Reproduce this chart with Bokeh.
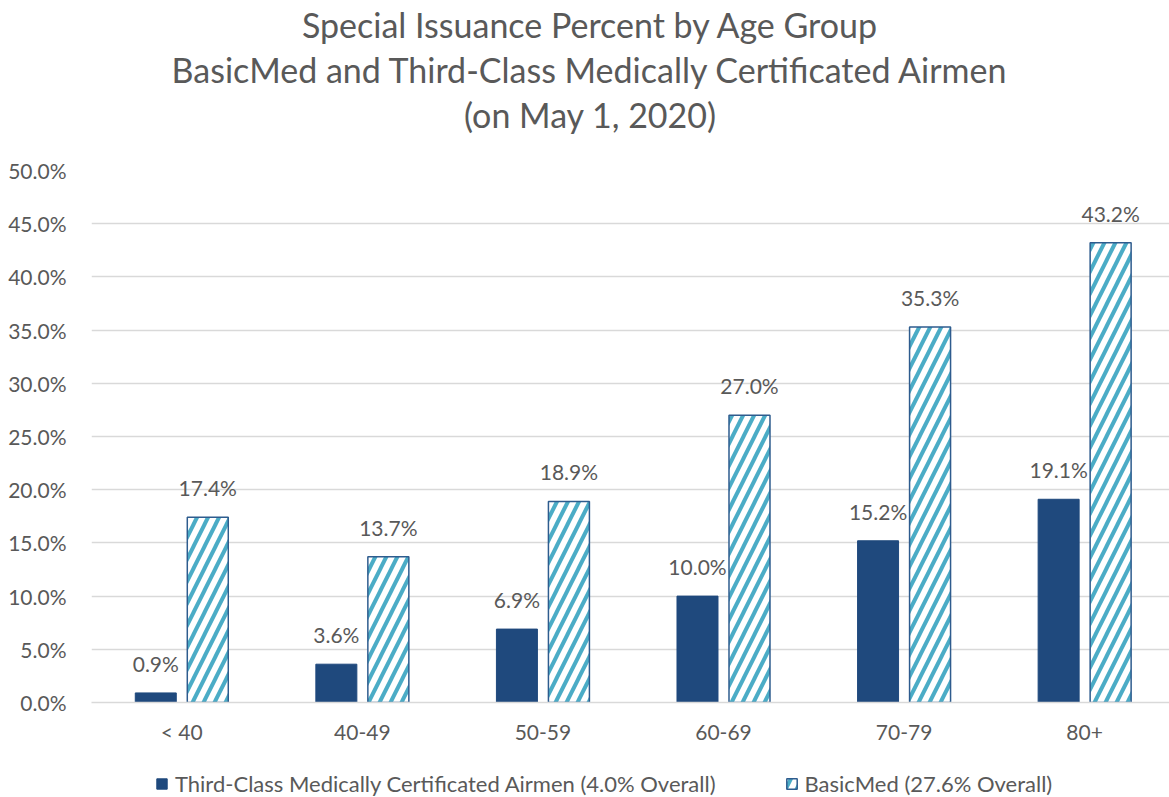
from bokeh.plotting import figure
from bokeh.layouts import column
from bokeh.models import (ColumnDataSource, FixedTicker, Legend, LegendItem,
                          Label)
from bokeh.core.properties import value
from bokeh.embed import file_html
from bokeh.resources import INLINE

# Age groups and special issuance percentages
age_groups = ["< 40", "40-49", "50-59", "60-69", "70-79", "80+"]
third_class = [0.9, 3.6, 6.9, 10.0, 15.2, 19.1]
basicmed = [17.4, 13.7, 18.9, 27.0, 35.3, 43.2]
y_ticks = [0, 5, 10, 15, 20, 25, 30, 35, 40, 45, 50]
series_names = ["Third-Class Medically Certificated Airmen (4.0% Overall)",
                "BasicMed (27.6% Overall)"]
title_lines = ["Special Issuance Percent by Age Group",
               "BasicMed and Third-Class Medically Certificated Airmen",
               "(on May 1, 2020)"]

FONT = "Lato"
GREY = "#595959"
DARK = "#1F497D"
HATCH = "#4BACC6"
EDGE = "#2E5C8E"

W = 1169
LEFT = 91            # space for the y tick labels
TITLE_H = 150
MAIN_H = 610
LEG_H = 797 - TITLE_H - MAIN_H

centers = [i + 0.5 for i in range(len(age_groups))]
off = 0.144
bw = 0.227

dark_style = dict(fill_color=DARK, line_color=DARK)
hatch_style = dict(fill_color="white", line_color=EDGE, line_width=1.5,
                   hatch_pattern="/", hatch_color=HATCH, hatch_scale=22,
                   hatch_weight=4)

src_tc = ColumnDataSource(dict(
    x=[c - off for c in centers], top=third_class,
    lbl=[f"{v:.1f}%" for v in third_class]))
src_bm = ColumnDataSource(dict(
    x=[c + off for c in centers], top=basicmed,
    lbl=[f"{v:.1f}%" for v in basicmed]))


def bare(fig):
    fig.axis.visible = False
    fig.grid.visible = False
    fig.outline_line_color = None


# ---- title strip ----
tf = figure(width=W, height=TITLE_H, output_backend="svg",
            toolbar_location=None, x_range=(0, 1), y_range=(0, 1),
            min_border_left=LEFT, min_border_right=0, min_border_top=0,
            min_border_bottom=0)
bare(tf)
for i, line in enumerate(title_lines):
    tf.add_layout(Label(x=590 - LEFT, y=TITLE_H - 24 - 45 * i,
                        x_units="screen", y_units="screen", text=line,
                        text_align="center", text_baseline="middle",
                        text_font=FONT, text_font_size="34px",
                        text_color=GREY))

# ---- main chart ----
p = figure(width=W, height=MAIN_H, output_backend="svg", toolbar_location=None,
           x_range=(0, 5.97), y_range=(0, 50),
           min_border_left=LEFT, min_border_right=0, min_border_top=20,
           min_border_bottom=58)
p.outline_line_color = None

p.vbar(x="x", top="top", width=bw, source=src_tc, **dark_style)
p.vbar(x="x", top="top", width=bw, source=src_bm, **hatch_style)

for src in (src_tc, src_bm):
    p.text(x="x", y="top", text="lbl", source=src, text_align="center",
           text_baseline="bottom", y_offset=-17, text_color=GREY,
           text_font_size="21px", text_font=value(FONT))

p.xaxis.ticker = FixedTicker(ticks=centers)
p.xaxis.major_label_overrides = {c: g for c, g in zip(centers, age_groups)}
p.xaxis.major_tick_line_color = None
p.xaxis.minor_tick_line_color = None
p.xaxis.axis_line_color = "#D9D9D9"
p.xaxis.axis_line_width = 1.5
p.xaxis.major_label_standoff = 10
p.xaxis.major_label_text_font = FONT
p.xaxis.major_label_text_font_size = "21px"
p.xaxis.major_label_text_color = GREY

p.yaxis.ticker = FixedTicker(ticks=y_ticks)
p.yaxis.major_label_overrides = {t: f"{t:.1f}%" for t in y_ticks}
p.yaxis.major_tick_line_color = None
p.yaxis.minor_tick_line_color = None
p.yaxis.axis_line_color = None
p.yaxis.major_label_standoff = 19
p.yaxis.major_label_text_font = FONT
p.yaxis.major_label_text_font_size = "21px"
p.yaxis.major_label_text_color = GREY

p.xgrid.grid_line_color = None
p.ygrid.grid_line_color = "#D9D9D9"
p.ygrid.grid_line_width = 1.5

# ---- legend strip (key glyphs reuse the series data, kept out of view) ----
lg = figure(width=W, height=LEG_H, output_backend="svg", toolbar_location=None,
            x_range=(-101, -100), y_range=(100, 101),
            min_border_left=LEFT, min_border_right=0, min_border_top=0,
            min_border_bottom=0)
bare(lg)
key_tc = lg.vbar(x="x", top="top", width=bw, source=src_tc, **dark_style)
key_bm = lg.vbar(x="x", top="top", width=bw, source=src_bm, **hatch_style)
legend = Legend(items=[LegendItem(label=series_names[0], renderers=[key_tc]),
                       LegendItem(label=series_names[1], renderers=[key_bm])],
                orientation="horizontal", location=(155 - LEFT, 0),
                border_line_color=None, background_fill_alpha=0,
                glyph_width=13, glyph_height=13, spacing=69,
                label_standoff=7, label_text_font=FONT,
                label_text_font_size="22px", label_text_color=GREY,
                padding=0, margin=0)
lg.add_layout(legend, "center")

open("out.html", "w").write(file_html(column(tf, p, lg, spacing=0), INLINE))
